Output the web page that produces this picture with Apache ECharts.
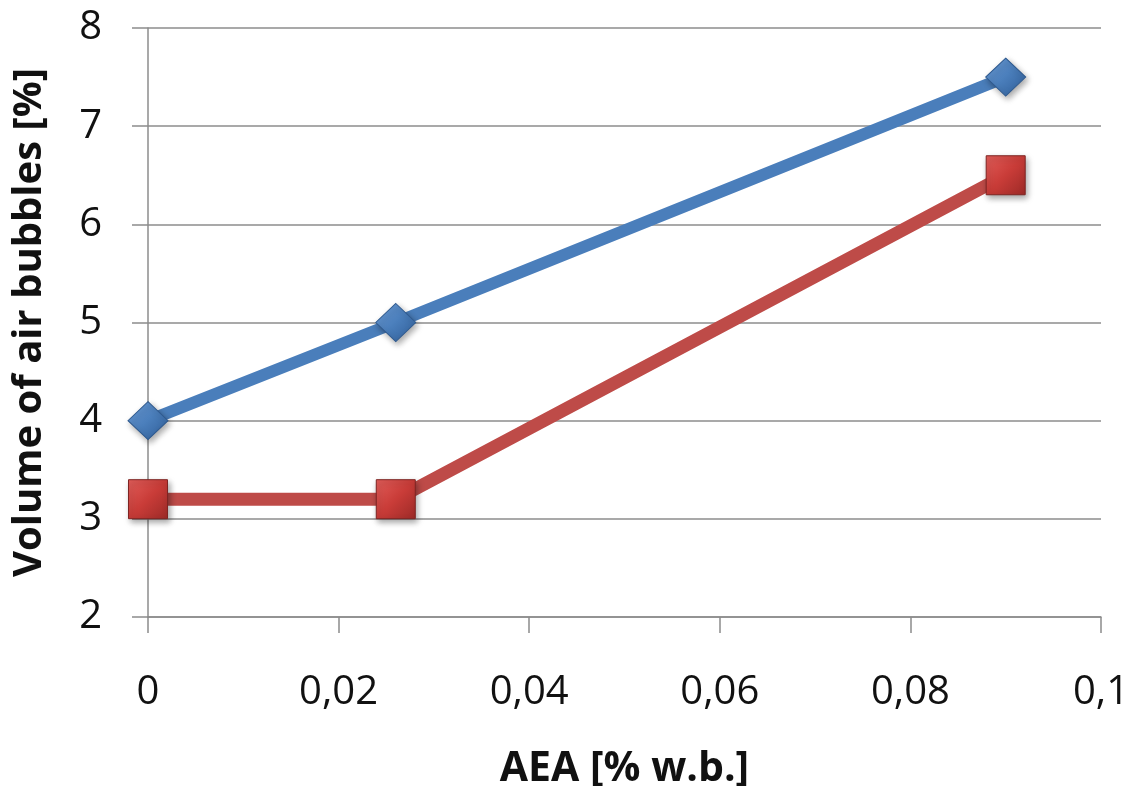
<!DOCTYPE html>
<html>
<head>
<meta charset="utf-8">
<script src="https://cdn.jsdelivr.net/npm/echarts@6/dist/echarts.min.js"></script>
<style>
  html, body { margin: 0; padding: 0; background: #fff; }
  #chart { width: 1128px; height: 786px; }
</style>
</head>
<body>
<div id="chart"></div>
<script>
const aea = [0, 0.026, 0.09];
const blueValues = [4, 5, 7.5];
const redValues = [3.2, 3.2, 6.5];

const chart = echarts.init(document.getElementById("chart"));

const toPairs = vals => aea.map((x, i) => [x, vals[i]]);
const font = "'Open Sans', 'Noto Sans', sans-serif";

chart.setOption({
  animation: false,
  grid: {
    left: 148, right: 27, top: 28, bottom: 169,
    containLabel: false,
    outerBoundsMode: "none"
  },
  xAxis: {
    type: "value",
    min: 0,
    max: 0.1,
    interval: 0.02,
    name: "AEA [% w.b.]",
    nameLocation: "middle",
    nameGap: 132,
    nameTextStyle: { fontFamily: font, fontSize: 41, fontWeight: "bold", color: "#111" },
    axisLine: { show: true, lineStyle: { color: "#8c8c8c", width: 1.5 } },
    axisTick: { show: true, length: 16, lineStyle: { color: "#8c8c8c", width: 1.5 } },
    axisLabel: {
      margin: 56,
      fontFamily: font,
      fontSize: 40,
      color: "#111",
      formatter: v => String(+v.toFixed(2)).replace(".", ",")
    },
    splitLine: { show: false }
  },
  yAxis: {
    type: "value",
    min: 2,
    max: 8,
    interval: 1,
    name: "Volume of air bubbles [%]",
    nameLocation: "middle",
    nameGap: 98,
    nameTextStyle: { fontFamily: font, fontSize: 40, fontWeight: "bold", color: "#111" },
    axisLine: { show: true, lineStyle: { color: "#8c8c8c", width: 1.5 } },
    axisTick: { show: true, length: 16, lineStyle: { color: "#8c8c8c", width: 1.5 } },
    axisLabel: { margin: 46, fontFamily: font, fontSize: 40, color: "#111" },
    splitLine: { show: true, lineStyle: { color: "#8c8c8c", width: 1.5 } }
  },
  series: [
    {
      name: "blue",
      type: "line",
      data: toPairs(blueValues),
      lineStyle: { color: "#4a7ebb", width: 12 },
      symbol: "diamond",
      symbolSize: [40, 38],
      itemStyle: {
        color: new echarts.graphic.LinearGradient(0, 0, 1, 1, [
          { offset: 0, color: "#6fa0dc" },
          { offset: 0.5, color: "#4a7ebb" },
          { offset: 1, color: "#2e5c96" }
        ]),
        borderColor: "#2f5a8f",
        borderWidth: 1,
        shadowColor: "rgba(0,0,0,0.35)",
        shadowBlur: 6,
        shadowOffsetX: 2,
        shadowOffsetY: 3
      },
      z: 3
    },
    {
      name: "red",
      type: "line",
      data: toPairs(redValues),
      lineStyle: { color: "#be4b48", width: 13 },
      symbol: "rect",
      symbolSize: 39,
      itemStyle: {
        color: new echarts.graphic.LinearGradient(0, 0, 1, 1, [
          { offset: 0, color: "#e25e5a" },
          { offset: 0.5, color: "#c93c38" },
          { offset: 1, color: "#9c2a27" }
        ]),
        borderColor: "#7e2422",
        borderWidth: 1,
        shadowColor: "rgba(0,0,0,0.35)",
        shadowBlur: 6,
        shadowOffsetX: 2,
        shadowOffsetY: 3
      },
      z: 2
    }
  ]
});
</script>
</body>
</html>
